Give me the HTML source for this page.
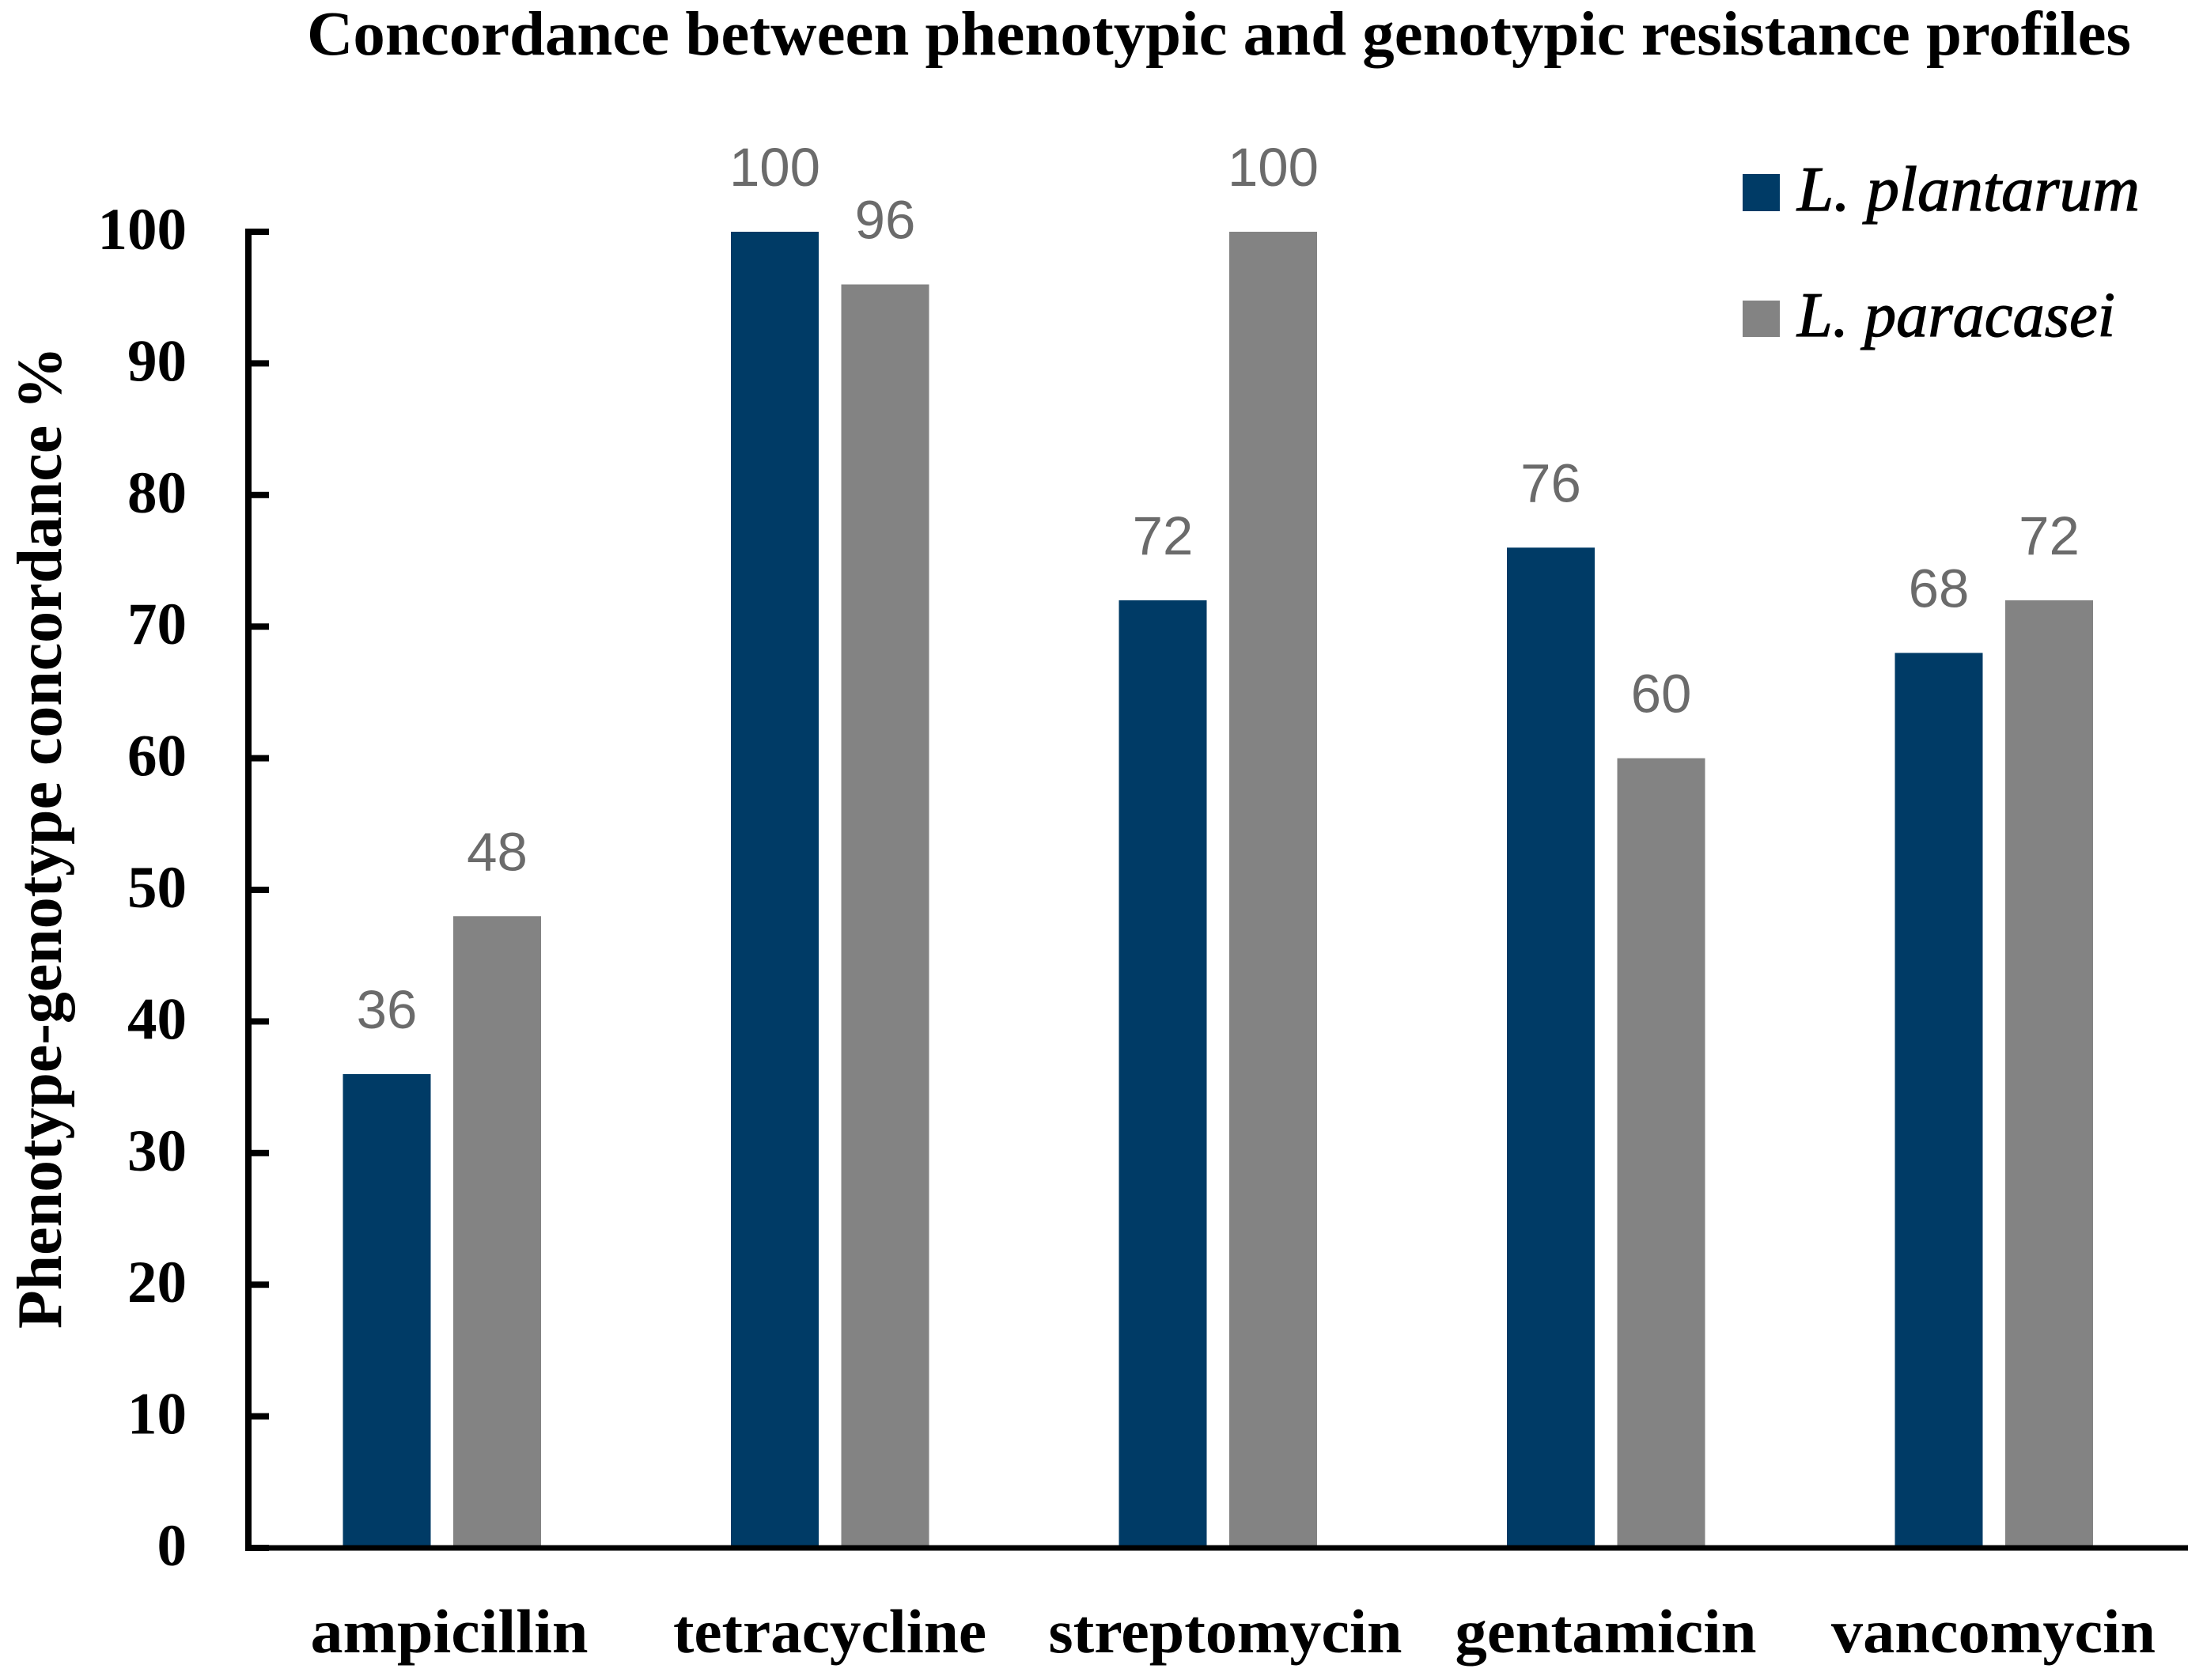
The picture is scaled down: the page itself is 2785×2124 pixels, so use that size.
<!DOCTYPE html>
<html lang="en">
<head>
<meta charset="utf-8">
<title>Concordance between phenotypic and genotypic resistance profiles</title>
<style>
  html, body { margin: 0; padding: 0; background: #fff; }
  svg { display: block; }
  .serif { font-family: "Liberation Serif", serif; font-weight: bold; fill: #000; }
  .value { font-family: "Liberation Sans", sans-serif; font-size: 69px; fill: #6b6b6b; text-anchor: middle; }
  .tick { font-size: 75px; text-anchor: end; }
  .cat { font-size: 78px; text-anchor: middle; }
  .legend-text { font-family: "Liberation Serif", serif; font-style: italic; font-size: 80px; fill: #000; stroke: #000; stroke-width: 1.2px; }
</style>
</head>
<body>
<svg id="chart" xmlns="http://www.w3.org/2000/svg" width="2785" height="2124" viewBox="0 0 2785 2124">
  <rect x="0" y="0" width="2785" height="2124" fill="#ffffff"/>
  <text class="serif" x="388" y="69" font-size="79" textLength="2306" lengthAdjust="spacingAndGlyphs">Concordance between phenotypic and genotypic resistance profiles</text>
  <text class="serif" font-size="80" transform="translate(77 1680) rotate(-90)" textLength="1242" lengthAdjust="spacingAndGlyphs">Phenotype-genotype concordance %</text>
  <g id="bars"></g>
  <g id="values"></g>
  <g id="axes"></g>
  <g>
    <text class="serif cat" x="568" y="2089" textLength="351" lengthAdjust="spacingAndGlyphs">ampicillin</text>
    <text class="serif cat" x="1049" y="2089" textLength="396" lengthAdjust="spacingAndGlyphs">tetracycline</text>
    <text class="serif cat" x="1549" y="2089" textLength="447" lengthAdjust="spacingAndGlyphs">streptomycin</text>
    <text class="serif cat" x="2030" y="2089" textLength="381" lengthAdjust="spacingAndGlyphs">gentamicin</text>
    <text class="serif cat" x="2520" y="2089" textLength="410" lengthAdjust="spacingAndGlyphs">vancomycin</text>
  </g>
  <g>
    <rect x="2203" y="220" width="47" height="47" fill="#003b66"/>
    <text class="legend-text" x="2272" y="266" textLength="433" lengthAdjust="spacingAndGlyphs">L. plantarum</text>
    <rect x="2203" y="380" width="47" height="46" fill="#838383"/>
    <text class="legend-text" x="2272" y="425" textLength="402" lengthAdjust="spacingAndGlyphs">L. paracasei</text>
  </g>
</svg>
<script>
const categories = ["ampicillin", "tetracycline", "streptomycin", "gentamicin", "vancomycin"];
const plantarum = [36, 100, 72, 76, 68];
const paracasei = [48, 96, 100, 60, 72];
const yTicks = [0, 10, 20, 30, 40, 50, 60, 70, 80, 90, 100];

const NS = "http://www.w3.org/2000/svg";
const plotLeft = 313.5, plotRight = 2766, plotTop = 293, plotBottom = 1957;
const barWidth = 111, barGap = 28.5;
const yMax = 100;

function yScale(v) { return plotBottom - (v / yMax) * (plotBottom - plotTop); }
function bandCenter(i) { return plotLeft + (i + 0.5) * (plotRight - plotLeft) / categories.length; }

function make(tag, attrs, parent) {
  const el = document.createElementNS(NS, tag);
  for (const k in attrs) el.setAttribute(k, attrs[k]);
  parent.appendChild(el);
  return el;
}

const barsG = document.getElementById("bars");
const valuesG = document.getElementById("values");
const axesG = document.getElementById("axes");

function drawSeries(values, color, side, seriesName) {
  values.forEach(function (v, i) {
    const cx = bandCenter(i) + side * (barWidth + barGap) / 2;
    const top = yScale(v);
    const bar = make("rect", { x: cx - barWidth / 2, y: top, width: barWidth, height: plotBottom - top, fill: color }, barsG);
    
    
    const label = make("text", { x: cx, y: top - 58, class: "value" }, valuesG);
    label.textContent = String(v);
    
    
  });
}
drawSeries(plantarum, "#003b66", -1, "plantarum");
drawSeries(paracasei, "#838383", 1, "paracasei");

const yAxis = make("rect", { x: 310, y: plotTop - 4, width: 8, height: plotBottom - plotTop + 8, fill: "#000" }, axesG);



const xAxis = make("rect", { x: 310, y: plotBottom - 3.5, width: plotRight - 310, height: 7, fill: "#000" }, axesG);



yTicks.forEach(function (t) {
  const y = yScale(t);
  const mark = make("rect", { x: 314, y: y - 4, width: 26, height: 8, fill: "#000" }, axesG);
  
  
  const label = make("text", { x: 236, y: y + 22, class: "serif tick" }, axesG);
  label.textContent = String(t);
  
  
});
</script>
</body>
</html>
